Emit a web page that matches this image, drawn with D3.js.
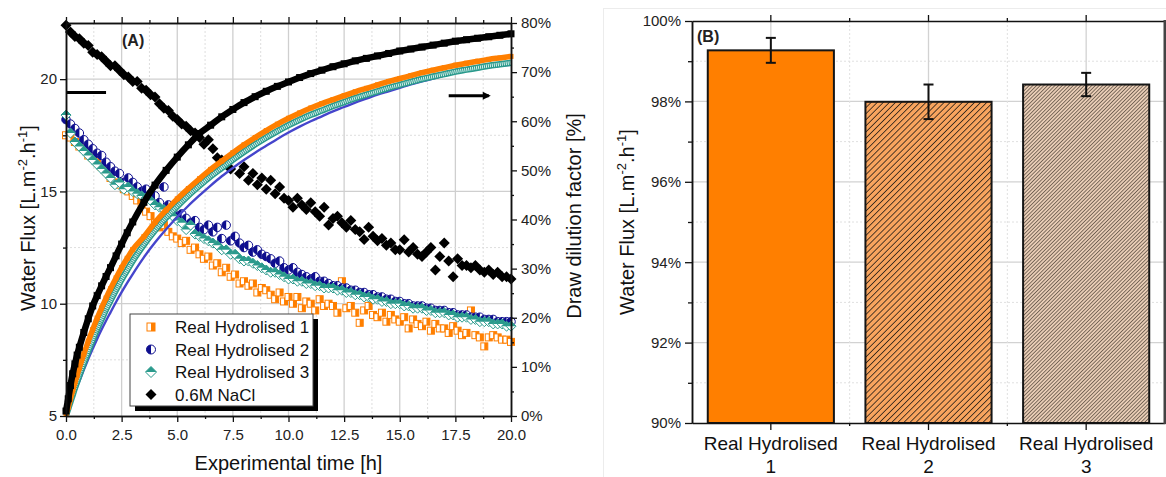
<!DOCTYPE html>
<html>
<head>
<meta charset="utf-8">
<script src="https://cdn.jsdelivr.net/npm/d3@7"></script>
<style>
body { margin: 0; background: #fff; }
</style>
</head>
<body>
<svg id="chart" width="1166" height="477"></svg>
<script>
// ---------- data : panel A ----------
var timeFlux = [0,0.2,0.4,0.6,0.8,1,1.2,1.4,1.6,1.8,2,2.2,2.4,2.6,2.8,3,3.2,3.4,3.6,3.8,4,4.2,4.4,4.6,4.8,5,5.2,5.4,5.6,5.8,6,6.2,6.4,6.6,6.8,7,7.2,7.4,7.6,7.8,8,8.2,8.4,8.6,8.8,9,9.2,9.4,9.6,9.8,10,10.2,10.4,10.6,10.8,11,11.2,11.4,11.6,11.8,12,12.2,12.4,12.6,12.8,13,13.2,13.4,13.6,13.8,14,14.2,14.4,14.6,14.8,15,15.2,15.4,15.6,15.8,16,16.2,16.4,16.6,16.8,17,17.2,17.4,17.6,17.8,18,18.2,18.4,18.6,18.8,19,19.2,19.4,19.6,19.8,20];

var fluxRH1 = [17.5,17.4,17.2,17.0,16.9,16.6, 16.5,16.3,16.1,15.9,15.6, 15.4,15.3,15.1,15.0,14.8, 14.6,14.3,14.1,13.9,13.6,
  13.4,13.5,13.2,13.0,12.9, 12.7,12.8,12.4,12.5,12.2, 12.0,12.1,11.7,11.8,11.4, 11.6,11.2,11.3,10.9,11.0,
  10.8,10.9,10.5,10.7,10.6, 10.4,10.2,10.5,10.1,10.3, 10.0,10.3,9.8,10.1,10.0, 9.7,10.2,9.9,10.0,9.9,
  9.6,11.0,9.8,9.9,9.6, 9.15,9.7,9.9,9.5,9.4, 9.6,9.2,9.5,9.3,9.2, 9.4,8.9,9.3,9.1,9.0,
  9.2,8.8,9.1,8.9,8.9, 8.7,9.0,8.8,8.6,8.7, 9.7,8.6,8.5,8.1,8.5, 8.6,8.5,8.4,8.4,8.3];

var fluxRH2 = [18.2,18.0,17.8,17.6,17.3,17.1, 16.9,16.7,16.6,16.3,16.1, 15.9,15.8,15.4,15.6,15.4, 15.2,15.0,15.1,14.9,14.8,
  14.5,15.2,14.4,14.3,13.9, 14.0,13.8,13.6,13.7,13.4, 13.3,13.5,13.2,13.4,12.9, 13.5,12.8,13.0,12.7,12.5,
  12.6,12.3,12.4,12.2,12.1, 12.0,11.8,11.9,11.6,11.5, 11.6,11.4,11.3,11.2,11.1, 11.2,11.0,11.0,10.9,10.8,
  10.8,10.7,10.7,10.6,10.6, 10.5,10.5,10.4,10.4,10.3, 10.3,10.2,10.2,10.1,10.1, 10.0,10.0,9.9,9.9,9.9,
  9.8,9.8,9.7,9.7,9.7, 9.6,9.6,9.5,9.5,9.5, 9.4,9.4,9.4,9.3,9.3, 9.3,9.2,9.2,9.2,9.2];

var fluxRH3 = [18.4,17.6,17.2,17.0,16.8,16.6, 16.4,16.2,16.0,15.8,15.6, 15.3,15.4,15.1,15.2,15.0, 14.9,14.8,14.7,14.6,14.4,
  14.3,14.2,14.0,13.9,13.7, 13.6,13.3,13.5,13.1,13.0, 12.9,12.8,12.7,12.6,12.4, 12.4,12.2,12.2,12.0,11.9,
  11.9,11.8,11.7,11.6,11.5, 11.4,11.4,11.3,11.2,11.1, 11.1,11.0,11.0,10.9,10.9, 10.8,10.8,10.7,10.7,10.7,
  10.6,10.6,10.5,10.5,10.4, 10.4,10.3,10.3,10.2,10.2, 10.1,10.1,10.0,10.0,10.0, 9.9,9.9,9.8,9.8,9.8,
  9.7,9.7,9.6,9.6,9.6, 9.5,9.5,9.4,9.4,9.4, 9.3,9.3,9.2,9.2,9.2, 9.1,9.1,9.1,9.0,9.0];

var fluxNaCl = [22.4,22.1,21.9,21.8,21.6,21.5, 21.2,21.1,21.0,20.8,20.6, 20.6,20.4,20.2,20.1,19.9, 19.9,19.6,19.5,19.3,19.2,
  18.9,18.7,18.6,18.35,18.2, 18.0,17.9,17.7,17.6,17.4, 17.1,17.3,16.9,16.5,16.4, 16.4,16.0,16.6,15.8,16.1,
  15.5,15.8,15.3,15.6,15.1, 15.5,14.9,15.2,14.7,14.6, 14.3,14.7,14.4,14.2,14.5, 14.1,13.9,14.3,13.5,13.8,
  13.9,13.6,13.4,13.7,13.3, 13.2,12.86,13.4,13.0,12.8, 12.9,12.6,12.7,12.4,12.4, 12.85,12.3,12.5,12.2,12.1,
  12.3,12.5,11.5,12.1,12.7, 11.9,11.2,12.0,11.7,11.7, 11.6,11.7,11.5,11.4,11.5, 11.3,11.4,11.2,11.2,11.1];

var timeDil = [0,0.1,0.2,0.3,0.4,0.5,0.6,0.8,1,1.2,1.4,1.6,1.8,2,2.25,2.5,2.75,3,3.5,4,4.5,5,5.5,6,6.5,7,7.5,8,8.5,9,9.5,10,10.5,11,11.5,12,12.5,13,13.5,14,14.5,15,15.5,16,16.5,17,17.5,18,18.5,19,19.5,20];

var dilNaCl = [1.0,3.5,6.2,8.6,10.6,12.4,14.0, 17.0,19.8,22.4,24.5,26.5,28.4,30.2, 32.6,35.0,37.3,39.5,
  43.5,47.0,50.0,52.7,55.2,57.5,59.2,60.9,62.4,63.8, 65.0,66.1,67.1,68.0,68.9,69.7,70.4,71.1,71.7,72.3,
  72.8,73.3,73.8,74.3,74.7,75.1,75.5,75.9,76.3,76.6, 76.9,77.2,77.5,77.8];
var dilRH1 = [0.3,1.8,3.5,5.2,6.8,8.3,9.8, 12.6,15.2,17.6,19.9,22.0,24.0,25.9, 28.1,30.2,32.1,33.9,
  36.5,39.4,41.9,44.2,46.3,48.3,50.2,51.9,53.6,55.2, 56.7,58.1,59.4,60.6,61.7,62.7,63.6,64.4,65.2,66.0,
  66.7,67.4,68.1,68.7,69.3,69.9,70.4,70.9,71.4,71.8, 72.2,72.6,72.9,73.2];
var dilRH2 = [0.1,1.2,2.4,3.6,4.8,6.0,7.1, 9.4,11.6,13.7,15.7,17.6,19.4,21.1, 23.2,25.2,27.1,28.9,
  32.3,35.3,38.0,40.5,42.8,44.9,46.9,48.8,50.5,52.1, 53.6,55.0,56.4,57.7,58.9,60.0,61.0,62.0,62.9,63.8,
  64.6,65.4,66.1,66.8,67.5,68.1,68.7,69.3,69.8,70.3, 70.7,71.0,71.3,71.5];
var dilRH3 = [0.2,1.5,2.9,4.3,5.7,7.0,8.3, 10.8,13.2,15.5,17.7,19.7,21.7,23.5, 25.7,27.8,29.7,31.6,
  34.9,37.8,40.4,42.7,44.9,46.9,48.8,50.5,52.2,53.8, 55.3,56.7,58.0,59.2,60.3,61.3,62.2,63.1,63.9,64.7,
  65.4,66.1,66.8,67.4,68.0,68.6,69.1,69.6,70.1,70.5, 70.9,71.3,71.6,71.9];

var legendLabels = ["Real Hydrolised 1", "Real Hydrolised 2", "Real Hydrolised 3", "0.6M NaCl"];
var xTicks = [0,2.5,5,7.5,10,12.5,15,17.5,20];
var xMinorTicks = [1.25,3.75,6.25,8.75,11.25,13.75,16.25,18.75];
var fluxTicks = [5,10,15,20];
var fluxMinorTicks = [7.5,12.5,17.5];
var dilTicks = [0,10,20,30,40,50,60,70,80];
var dilMinorTicks = [5,15,25,35,45,55,65,75];
var arrowFlux = {t: [0, 1.8], v: 19.4};
var arrowDil = {t: [17.2, 19.0], v: 65.2};

// ---------- data : panel B ----------
var barCats = ["Real Hydrolised 1", "Real Hydrolised 2", "Real Hydrolised 3"];
var barValues = [99.27, 97.99, 98.42];
var barErrors = [0.31, 0.43, 0.29];
var barTicks = [90,92,94,96,98,100];
var barMinorTicks = [91,93,95,97,99];

// ---------- setup ----------
var font = '"Liberation Sans", Arial, sans-serif';
var cOrange = "#ff7f00", cBlue = "#0e0e8e", cTeal = "#2a9a8c", cBlack = "#000";
var svg = d3.select("#chart").attr("font-family", font);

function styleAxis(g, fs) {
    g.attr("font-family", font).attr("font-size", fs);
    g.select(".domain").attr("stroke", "#111").attr("stroke-width", 1.5);
    g.selectAll(".tick line").attr("stroke", "#111").attr("stroke-width", 1.3);
    g.selectAll(".tick text").attr("fill", "#222");
    return g;
}

function drawMarker(g, type, s, c) {
    var h = s / 2;
    if (type === "halfSquare") {
        g.append("rect").attr("x", -h).attr("y", -h).attr("width", s).attr("height", s)
            .attr("fill", "#fff").attr("stroke", c).attr("stroke-width", 1);
        g.append("rect").attr("x", 0).attr("y", -h).attr("width", h).attr("height", s).attr("fill", c);
    } else if (type === "halfCircle") {
        g.append("circle").attr("r", h).attr("fill", "#fff").attr("stroke", c).attr("stroke-width", 1);
        g.append("path").attr("d", "M0," + (-h) + "A" + h + "," + h + " 0 0,0 0," + h + "Z").attr("fill", c);
    } else if (type === "halfDiamond") {
        g.append("path").attr("d", "M0," + (-h) + "L" + h + ",0L0," + h + "L" + (-h) + ",0Z")
            .attr("fill", "#fff").attr("stroke", c).attr("stroke-width", 1);
        g.append("path").attr("d", "M0," + (-h) + "L" + h + ",0L" + (-h) + ",0Z").attr("fill", c);
    } else if (type === "diamond") {
        g.append("path").attr("d", "M0," + (-h) + "L" + h + ",0L0," + h + "L" + (-h) + ",0Z").attr("fill", c);
    } else {
        g.append("rect").attr("x", -h).attr("y", -h).attr("width", s).attr("height", s).attr("fill", c);
    }
}

// ================= Panel A =================
var A = {left: 66, right: 511, top: 23, bottom: 416};
var x = d3.scaleLinear().domain([0, 20]).range([A.left, A.right]);
var yFlux = d3.scaleLinear().domain([5, 22.5]).range([A.bottom, A.top]);
var yDil = d3.scaleLinear().domain([0, 80]).range([A.bottom, A.top]);
var gA = svg.append("g");

// grid
var grid = gA.append("g");
grid.selectAll(".vmaj").data(xTicks.slice(1, -1)).enter().append("line")
    .attr("x1", x).attr("x2", x).attr("y1", A.top).attr("y2", A.bottom)
    .attr("stroke", "#cfcfcf").attr("stroke-width", 1.3);
grid.selectAll(".vmin").data(xMinorTicks).enter().append("line")
    .attr("x1", x).attr("x2", x).attr("y1", A.top).attr("y2", A.bottom)
    .attr("stroke", "#dedede").attr("stroke-dasharray", "2,2");
grid.selectAll(".hmaj").data(fluxTicks.slice(1)).enter().append("line")
    .attr("y1", yFlux).attr("y2", yFlux).attr("x1", A.left).attr("x2", A.right)
    .attr("stroke", "#cfcfcf").attr("stroke-width", 1.3);
grid.selectAll(".hmin").data(fluxMinorTicks).enter().append("line")
    .attr("y1", yFlux).attr("y2", yFlux).attr("x1", A.left).attr("x2", A.right)
    .attr("stroke", "#dedede").attr("stroke-dasharray", "2,2");

// flux scatter (left axis)
function scatter(times, vals, yScale, type, size, color) {
    var pts = times.map(function(t, i) { return {t: t, v: vals[i]}; });
    gA.append("g").selectAll("g").data(pts).enter().append("g")
        .attr("transform", function(d) { return "translate(" + x(d.t) + "," + yScale(d.v) + ")"; })
        .each(function() { drawMarker(d3.select(this), type, size, color); });
}
scatter(timeFlux, fluxRH1, yFlux, "halfSquare", 7, cOrange);
scatter(timeFlux, fluxRH2, yFlux, "halfCircle", 8.5, cBlue);
scatter(timeFlux, fluxRH3, yFlux, "halfDiamond", 10, cTeal);
scatter(timeFlux, fluxNaCl, yFlux, "diamond", 11, cBlack);

// dilution factor (right axis)
var lineDil = d3.line().x(function(d) { return x(d.t); }).y(function(d) { return yDil(d.v); })
    .curve(d3.curveMonotoneX);
function pts(vals) { return timeDil.map(function(t, i) { return {t: t, v: vals[i]}; }); }

gA.append("path").datum(pts(dilRH2)).attr("d", lineDil).attr("fill", "none")
    .attr("stroke", "#4545cc").attr("stroke-width", 2.4);
gA.append("path").datum(pts(dilRH3)).attr("d", lineDil).attr("fill", "none")
    .attr("stroke", cTeal).attr("stroke-width", 6.5);
gA.append("path").datum(pts(dilRH3)).attr("d", lineDil).attr("fill", "none")
    .attr("stroke", "#d8f0ec").attr("stroke-width", 3.5).attr("stroke-dasharray", "1,1");
gA.append("path").datum(pts(dilRH1)).attr("d", lineDil).attr("fill", "none")
    .attr("stroke", cOrange).attr("stroke-width", 5.5);
gA.append("g").selectAll("rect").data(pts(dilRH1)).enter().append("rect")
    .attr("x", function(d) { return x(d.t) - 2.5; }).attr("y", function(d) { return yDil(d.v) - 2.5; })
    .attr("width", 5).attr("height", 5).attr("fill", cOrange);
gA.append("path").datum(pts(dilNaCl)).attr("d", lineDil).attr("fill", "none")
    .attr("stroke", cBlack).attr("stroke-width", 6.5);
gA.append("g").selectAll("rect").data(pts(dilNaCl)).enter().append("rect")
    .attr("x", function(d) { return x(d.t) - 3.5; }).attr("y", function(d) { return yDil(d.v) - 3.5; })
    .attr("width", 7).attr("height", 7).attr("fill", cBlack);

// arrows (the left one points into the axis, its head is hidden there)
function arrow(ax, yScale, dir, head) {
    var x0 = x(ax.t[0]), x1 = x(ax.t[1]), yy = yScale(ax.v);
    gA.append("line").attr("x1", x0).attr("x2", x1).attr("y1", yy).attr("y2", yy)
        .attr("stroke", "#000").attr("stroke-width", 3);
    if (!head) return;
    var tip = dir > 0 ? x1 + 2 : x0 - 2;
    gA.append("path").attr("d", "M" + tip + "," + yy + "L" + (tip - dir * 8) + "," + (yy - 4) +
        "L" + (tip - dir * 8) + "," + (yy + 4) + "Z").attr("fill", "#000");
}
arrow(arrowFlux, yFlux, -1, false);
arrow(arrowDil, yDil, 1, true);

// legend
var lg = gA.append("g");
lg.append("rect").attr("x", 135).attr("y", 319).attr("width", 183).attr("height", 92).attr("fill", "#000");
lg.append("rect").attr("x", 130).attr("y", 314).attr("width", 183).attr("height", 92)
    .attr("fill", "#fff").attr("stroke", "#444").attr("stroke-width", 1);
var legTypes = [["halfSquare", 8, cOrange], ["halfCircle", 9, cBlue], ["halfDiamond", 11, cTeal], ["diamond", 11, cBlack]];
legendLabels.forEach(function(lab, i) {
    var yy = 327 + i * 22.5;
    drawMarker(lg.append("g").attr("transform", "translate(151," + yy + ")"), legTypes[i][0], legTypes[i][1], legTypes[i][2]);
    lg.append("text").attr("x", 175).attr("y", yy).attr("dy", "0.36em").attr("font-size", 17)
        .attr("fill", "#111").text(lab);
});

// axes
styleAxis(gA.append("g").attr("transform", "translate(0," + A.bottom + ")")
    .call(d3.axisBottom(x).tickValues(xTicks).tickSize(6).tickSizeOuter(0).tickPadding(7).tickFormat(d3.format(".1f"))), 15);
styleAxis(gA.append("g").attr("transform", "translate(0," + A.bottom + ")")
    .call(d3.axisBottom(x).tickValues(xMinorTicks).tickSize(3).tickSizeOuter(0).tickFormat("")), 15);
styleAxis(gA.append("g").attr("transform", "translate(0," + A.top + ")")
    .call(d3.axisTop(x).tickValues(xTicks).tickSize(6).tickSizeOuter(0).tickFormat("")), 15);
styleAxis(gA.append("g").attr("transform", "translate(0," + A.top + ")")
    .call(d3.axisTop(x).tickValues(xMinorTicks).tickSize(3).tickSizeOuter(0).tickFormat("")), 15);
styleAxis(gA.append("g").attr("transform", "translate(" + A.left + ",0)")
    .call(d3.axisLeft(yFlux).tickValues(fluxTicks).tickSize(6).tickSizeOuter(0).tickPadding(3)), 15);
styleAxis(gA.append("g").attr("transform", "translate(" + A.left + ",0)")
    .call(d3.axisLeft(yFlux).tickValues(fluxMinorTicks).tickSize(3).tickSizeOuter(0).tickFormat("")), 15);
styleAxis(gA.append("g").attr("transform", "translate(" + A.right + ",0)")
    .call(d3.axisRight(yDil).tickValues(dilTicks).tickSize(6).tickSizeOuter(0).tickPadding(4)
        .tickFormat(function(d) { return d + "%"; })), 15);
styleAxis(gA.append("g").attr("transform", "translate(" + A.right + ",0)")
    .call(d3.axisRight(yDil).tickValues(dilMinorTicks).tickSize(3).tickSizeOuter(0).tickFormat("")), 15);

// titles
function fluxTitle(sel) {
    sel.append("tspan").text("Water Flux [L.m");
    sel.append("tspan").attr("dy", -8).attr("font-size", 13).text("-2");
    sel.append("tspan").attr("dy", 8).text(".h");
    sel.append("tspan").attr("dy", -8).attr("font-size", 13).text("-1");
    sel.append("tspan").attr("dy", 8).text("]");
}
gA.append("text").attr("x", (A.left + A.right) / 2 - 0).attr("y", 470).attr("text-anchor", "middle")
    .attr("font-size", 20).attr("fill", "#111").text("Experimental time [h]");
gA.append("text").attr("transform", "translate(35,218) rotate(-90)").attr("text-anchor", "middle")
    .attr("font-size", 20).attr("fill", "#111").call(fluxTitle);
gA.append("text").attr("transform", "translate(581,216) rotate(-90)").attr("text-anchor", "middle")
    .attr("font-size", 20).attr("fill", "#111").text("Draw dilution factor [%]");
gA.append("text").attr("x", 122).attr("y", 46).attr("font-size", 16).attr("font-weight", "bold")
    .attr("fill", "#222").text("(A)");

// ================= Panel B =================
var B = {left: 692, right: 1165, top: 21, bottom: 423};
var xb = d3.scaleBand().domain(barCats).range([B.left, B.right]).padding(0);
var yb = d3.scaleLinear().domain([90, 100]).range([B.bottom, B.top]);
var gB = svg.append("g");

gB.append("rect").attr("x", 603.5).attr("y", 8.5).attr("width", 600).attr("height", 500)
    .attr("fill", "none").attr("stroke", "#ececec");

var defs = svg.append("defs");
function hatch(id, size, bg, lw) {
    var p = defs.append("pattern").attr("id", id).attr("patternUnits", "userSpaceOnUse")
        .attr("width", size).attr("height", size).attr("patternTransform", "rotate(45)");
    p.append("rect").attr("width", size).attr("height", size).attr("fill", bg);
    p.append("line").attr("x1", 0).attr("x2", 0).attr("y1", 0).attr("y2", size)
        .attr("stroke", "#2a2018").attr("stroke-width", lw);
}
hatch("hatch2", 4.3, "#f8a45e", 1.6);
hatch("hatch3", 2.6, "#e9cdb6", 1.1);
var barFills = [cOrange, "url(#hatch2)", "url(#hatch3)"];

// grid
var gridB = gB.append("g");
gridB.selectAll(".hmaj").data(barTicks.slice(1, -1)).enter().append("line")
    .attr("y1", yb).attr("y2", yb).attr("x1", B.left).attr("x2", B.right)
    .attr("stroke", "#d2d2d2").attr("stroke-width", 1.3);
gridB.selectAll(".hmin").data(barMinorTicks).enter().append("line")
    .attr("y1", yb).attr("y2", yb).attr("x1", B.left).attr("x2", B.right)
    .attr("stroke", "#e0e0e0").attr("stroke-dasharray", "2,2");
gridB.selectAll(".vmaj").data(barCats).enter().append("line")
    .attr("x1", function(d) { return xb(d) + xb.bandwidth() / 2; })
    .attr("x2", function(d) { return xb(d) + xb.bandwidth() / 2; })
    .attr("y1", B.top).attr("y2", B.bottom).attr("stroke", "#d2d2d2").attr("stroke-width", 1.3);
gridB.selectAll(".vmin").data(barCats.slice(1)).enter().append("line")
    .attr("x1", xb).attr("x2", xb)
    .attr("y1", B.top).attr("y2", B.bottom).attr("stroke", "#e0e0e0").attr("stroke-dasharray", "2,2");

// bars
var bw = xb.bandwidth() * 0.8;
gB.selectAll(".bar").data(barCats).enter().append("rect")
    .attr("x", function(d) { return xb(d) + (xb.bandwidth() - bw) / 2; })
    .attr("y", function(d, i) { return yb(barValues[i]); })
    .attr("width", bw)
    .attr("height", function(d, i) { return yb(90) - yb(barValues[i]); })
    .attr("fill", function(d, i) { return barFills[i]; })
    .attr("stroke", "#151515").attr("stroke-width", 2);

// error bars
barCats.forEach(function(c, i) {
    var cx = xb(c) + xb.bandwidth() / 2;
    var y0 = yb(barValues[i] - barErrors[i]), y1 = yb(barValues[i] + barErrors[i]);
    var eg = gB.append("g").attr("stroke", "#111").attr("stroke-width", 2);
    eg.append("line").attr("x1", cx).attr("x2", cx).attr("y1", y0).attr("y2", y1);
    eg.append("line").attr("x1", cx - 5).attr("x2", cx + 5).attr("y1", y0).attr("y2", y0);
    eg.append("line").attr("x1", cx - 5).attr("x2", cx + 5).attr("y1", y1).attr("y2", y1);
});

// axes
styleAxis(gB.append("g").attr("transform", "translate(" + B.left + ",0)")
    .call(d3.axisLeft(yb).tickValues(barTicks).tickSize(7).tickSizeOuter(0).tickPadding(4)
        .tickFormat(function(d) { return d + "%"; })), 15);
styleAxis(gB.append("g").attr("transform", "translate(" + B.left + ",0)")
    .call(d3.axisLeft(yb).tickValues(barMinorTicks).tickSize(4).tickSizeOuter(0).tickFormat("")), 15);
styleAxis(gB.append("g").attr("transform", "translate(0," + B.top + ")")
    .call(d3.axisTop(xb).tickSize(6).tickSizeOuter(0).tickFormat("")), 15);
styleAxis(gB.append("g").attr("transform", "translate(0," + B.bottom + ")")
    .call(d3.axisBottom(xb).tickSize(7).tickSizeOuter(0).tickFormat("")), 15);
// small ticks between categories
barCats.slice(1).forEach(function(c) {
    gB.append("line").attr("x1", xb(c)).attr("x2", xb(c)).attr("y1", B.top).attr("y2", B.top - 3)
        .attr("stroke", "#111").attr("stroke-width", 1.3);
    gB.append("line").attr("x1", xb(c)).attr("x2", xb(c)).attr("y1", B.bottom).attr("y2", B.bottom + 3)
        .attr("stroke", "#111").attr("stroke-width", 1.3);
});
gB.append("line").attr("x1", B.right).attr("x2", B.right).attr("y1", B.top - 1).attr("y2", B.bottom + 1)
    .attr("stroke", "#444").attr("stroke-width", 3);

// category labels (two lines)
barCats.forEach(function(c) {
    var cx = xb(c) + xb.bandwidth() / 2;
    var k = c.lastIndexOf(" ");
    var t = gB.append("text").attr("text-anchor", "middle").attr("font-size", 19).attr("fill", "#111");
    t.append("tspan").attr("x", cx).attr("y", 450).text(c.slice(0, k));
    t.append("tspan").attr("x", cx).attr("y", 473).text(c.slice(k + 1));
});

gB.append("text").attr("transform", "translate(634,222) rotate(-90)").attr("text-anchor", "middle")
    .attr("font-size", 20).attr("fill", "#111").call(fluxTitle);
gB.append("text").attr("x", 697).attr("y", 42).attr("font-size", 16).attr("font-weight", "bold")
    .attr("fill", "#222").text("(B)");
</script>
</body>
</html>
